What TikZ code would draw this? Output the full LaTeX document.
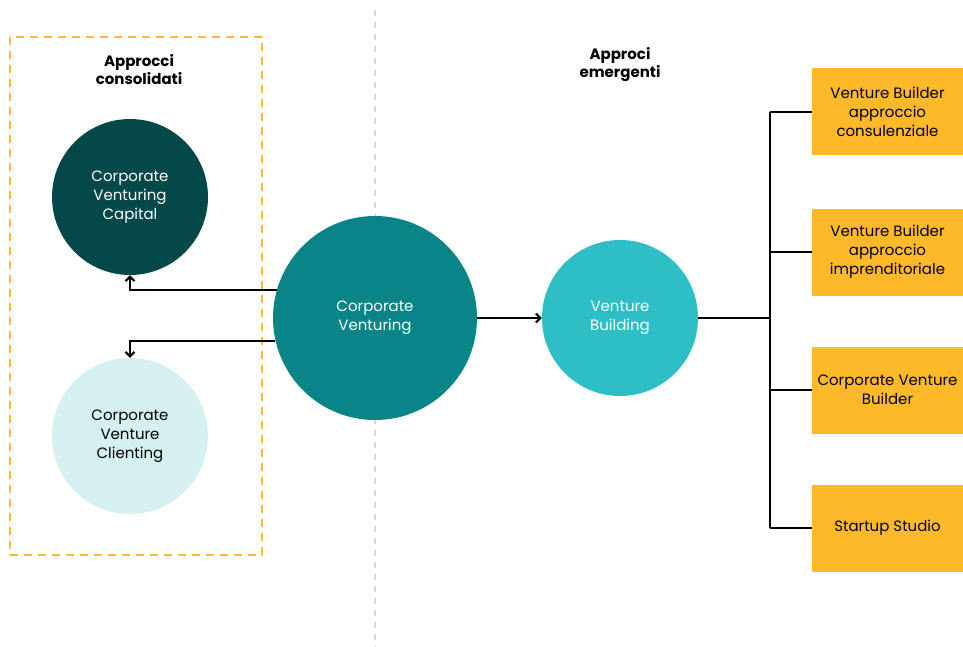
\documentclass[tikz,border=0pt]{standalone}
\usepackage{fontspec}
\setmainfont{Poppins}
\usetikzlibrary{arrows.meta, positioning}
\definecolor{darkteal}{HTML}{05484A}
\definecolor{midteal}{HTML}{0A8587}
\definecolor{brightteal}{HTML}{2EBEC5}
\definecolor{paleteal}{HTML}{D4F0F0}
\definecolor{amber}{HTML}{FDB92A}
\definecolor{frameamber}{HTML}{FBB934}
\definecolor{sepgray}{HTML}{D9D9D9}

\tikzset{
  blob/.style={circle, minimum size=156pt, inner sep=0pt, align=center,
    font=\fontsize{15}{19}\selectfont},
  builder/.style={rectangle, fill=amber, minimum width=151pt,
    minimum height=87pt, inner sep=0pt, align=center,
    font=\fontsize{15}{19}\selectfont},
  heading/.style={align=center, font=\fontsize{15}{18}\selectfont\bfseries},
  link/.style={line width=2.5pt, -{Straight Barb[length=4.5pt,width=9pt,line width=2pt]}},
  branch/.style={line width=2.5pt}
}

\begin{document}
\begin{tikzpicture}[x=1pt, y=-1pt]
\useasboundingbox (0,0) rectangle (963,647);
% frames
\draw[frameamber, line width=2.5pt, dash pattern=on 8pt off 6pt]
  (10,37) rectangle (262,555);
\draw[sepgray, line width=2.5pt, dash pattern=on 6pt off 6pt]
  (375,10) -- (375,647);
% headings
\node[heading] (hcons) at (139,70) {Approcci\\consolidati};
\node[heading] (hemer) at (620,65) {Approci\\emergenti};
% circles
\node[blob, fill=darkteal, text=white] (cvc) at (130,197)
  {Corporate\\Venturing\\Capital};
\node[blob, fill=paleteal, text=black] (cvcl) at (130,436)
  {Corporate\\Venture\\Clienting};
\node[blob, fill=midteal, text=white, minimum size=204pt] (cv) at (375,318)
  {Corporate\\Venturing};
\node[blob, fill=brightteal, text=white] (vb) at (620,318)
  {Venture\\Building};
% builder models
\node[builder] (b1) at (887.5,112) {Venture Builder\\approccio\\consulenziale};
\node[builder] (b2) at (887.5,252) {Venture Builder\\approccio\\imprenditoriale};
\node[builder] (b3) at (887.5,390) {Corporate Venture\\Builder};
\node[builder] (b4) at (887.5,528) {Startup Studio};
% connectors
\draw[link] (cv.164.7) -| (cvc.south);
\draw[link] (cv.193) -| (cvcl.north);
\draw[link] (cv.east) -- (vb.west);
\draw[branch] (vb.east) -- ++(72,0) coordinate (hub);
\draw[branch] (hub |- b1.west) -- (hub |- b4.west);
\foreach \b in {b1,b2,b3,b4}
  \draw[branch] (hub |- \b.west) -- (\b.west);
\end{tikzpicture}
\end{document}
